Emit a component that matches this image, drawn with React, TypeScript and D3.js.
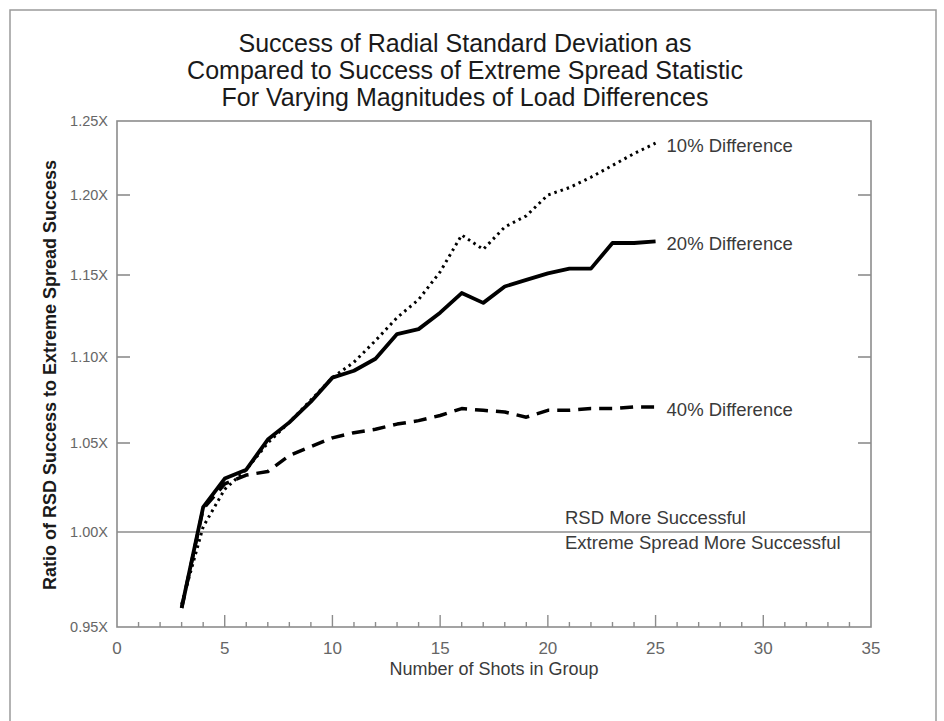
import React, { useEffect, useRef } from "react";
import * as d3 from "d3";

// number of shots in the group
const shots = [3, 4, 5, 6, 7, 8, 9, 10, 11, 12, 13, 14, 15, 16, 17, 18, 19, 20, 21, 22, 23, 24, 25];

// ratio of RSD success to extreme spread success
const diff10 = [0.962, 1.003, 1.024, 1.035, 1.05, 1.062, 1.075, 1.088, 1.097, 1.11, 1.124, 1.135, 1.152, 1.175, 1.166, 1.18, 1.187, 1.2, 1.205, 1.212, 1.22, 1.228, 1.235];
const diff20 = [0.96, 1.014, 1.03, 1.035, 1.052, 1.062, 1.074, 1.088, 1.092, 1.099, 1.114, 1.117, 1.127, 1.139, 1.133, 1.143, 1.147, 1.151, 1.154, 1.154, 1.17, 1.17, 1.171];
const diff40 = [0.96, 1.013, 1.027, 1.032, 1.034, 1.043, 1.048, 1.053, 1.056, 1.058, 1.061, 1.063, 1.066, 1.07, 1.069, 1.068, 1.065, 1.069, 1.069, 1.07, 1.07, 1.071, 1.071];

const seriesNames = ["10% Difference", "20% Difference", "40% Difference"];
const xTicks = [0, 5, 10, 15, 20, 25, 30, 35];
const yTicks = [0.95, 1.0, 1.05, 1.1, 1.15, 1.2, 1.25];
const titleLines = [
  "Success of Radial Standard Deviation as",
  "Compared to Success of Extreme Spread Statistic",
  "For Varying Magnitudes of Load Differences",
];
const xTitle = "Number of Shots in Group";
const yTitle = "Ratio of RSD Success to Extreme Spread Success";
const aboveNote = "RSD More Successful";
const belowNote = "Extreme Spread More Successful";

const W = 944;
const H = 721;
const FONT = "'Liberation Sans', Arial, sans-serif";

export default function App() {
  const ref = useRef<SVGSVGElement>(null);

  useEffect(() => {
    const svg = d3.select(ref.current);
    svg.selectAll("*").remove();

    const left = 117, right = 871;
    const x = d3.scaleLinear().domain([0, 35]).range([left, right]);
    // scanned chart is not evenly spaced vertically, so the scale follows the tick marks
    const y = d3.scaleLinear().domain(yTicks).range([627, 532, 443, 357, 275, 195, 121]);
    const top = y(1.25), bottom = y(0.95);
    const axisColor = "#8c8c8c";

    // outer frame
    svg.append("rect").attr("x", 10).attr("y", 10).attr("width", 926).attr("height", 730)
      .attr("fill", "none").attr("stroke", "#9a9a9a").attr("stroke-width", 1.5);

    // title
    svg.append("g").selectAll("text").data(titleLines).join("text")
      .attr("x", 465).attr("y", (d, i) => 52 + i * 27)
      .attr("text-anchor", "middle").attr("font-family", FONT).attr("font-size", 25)
      .attr("fill", "#1a1a1a").text((d) => d);

    // plot box
    svg.append("rect").attr("x", left).attr("y", top).attr("width", right - left).attr("height", bottom - top)
      .attr("fill", "none").attr("stroke", axisColor).attr("stroke-width", 1.6);

    // 1.00X reference line
    svg.append("line").attr("x1", left).attr("x2", right).attr("y1", y(1)).attr("y2", y(1))
      .attr("stroke", axisColor).attr("stroke-width", 1.6);

    // y ticks on both sides
    const inner = yTicks.filter((d) => d > 1.001 && d < 1.249);
    const gy = svg.append("g").attr("stroke", axisColor).attr("stroke-width", 1.6);
    gy.selectAll(".l").data(inner).join("line").attr("class", "l")
      .attr("x1", left).attr("x2", left + 13).attr("y1", (d) => y(d)).attr("y2", (d) => y(d));
    gy.selectAll(".r").data(inner).join("line").attr("class", "r")
      .attr("x1", right - 13).attr("x2", right).attr("y1", (d) => y(d)).attr("y2", (d) => y(d));

    svg.append("g").selectAll("text").data(yTicks).join("text")
      .attr("x", left - 9).attr("y", (d) => y(d)).attr("dy", "0.36em")
      .attr("text-anchor", "end").attr("font-family", FONT).attr("font-size", 14.5)
      .attr("fill", "#666").text((d) => d3.format(".2f")(d) + "X");

    // x ticks: minor every shot, major every 5
    const gx = svg.append("g").attr("stroke", axisColor).attr("stroke-width", 1.4);
    gx.selectAll("line").data(d3.range(1, 35)).join("line")
      .attr("x1", (d) => x(d)).attr("x2", (d) => x(d))
      .attr("y1", bottom).attr("y2", (d) => bottom - (d % 5 === 0 ? 12 : 5));

    svg.append("g").selectAll("text").data(xTicks).join("text")
      .attr("x", (d) => x(d)).attr("y", bottom + 27)
      .attr("text-anchor", "middle").attr("font-family", FONT).attr("font-size", 17)
      .attr("fill", "#666").text((d) => d);

    svg.append("text").attr("x", (left + right) / 2).attr("y", 675)
      .attr("text-anchor", "middle").attr("font-family", FONT).attr("font-size", 18)
      .attr("fill", "#3a3a3a").text(xTitle);

    svg.append("text").attr("transform", `translate(56,375) rotate(-90)`)
      .attr("text-anchor", "middle").attr("font-family", FONT).attr("font-size", 18)
      .attr("font-weight", "bold").attr("fill", "#1a1a1a").text(yTitle);

    // series
    const series = [
      { name: seriesNames[0], values: diff10, width: 3, dash: "2.5,4" },
      { name: seriesNames[2], values: diff40, width: 3.5, dash: "13,8" },
      { name: seriesNames[1], values: diff20, width: 3.8, dash: null },
    ];
    const line = d3.line<number>().x((d, i) => x(shots[i])).y((d) => y(d));

    svg.append("g").selectAll("path").data(series).join("path")
      .attr("d", (s) => line(s.values))
      .attr("fill", "none").attr("stroke", "#000")
      .attr("stroke-width", (s) => s.width)
      .attr("stroke-dasharray", (s) => s.dash)
      .attr("stroke-linejoin", "round");

    svg.append("g").selectAll("text").data(series).join("text")
      .attr("x", x(25) + 11).attr("y", (s) => y(s.values[s.values.length - 1]) + 2)
      .attr("dy", "0.36em").attr("font-family", FONT).attr("font-size", 18.5)
      .attr("fill", "#3a3a3a").text((s) => s.name);

    // notes around the 1.00X line
    svg.append("text").attr("x", 565).attr("y", y(1) - 8)
      .attr("font-family", FONT).attr("font-size", 18.5).attr("fill", "#3a3a3a").text(aboveNote);
    svg.append("text").attr("x", 565).attr("y", y(1) + 17)
      .attr("font-family", FONT).attr("font-size", 18.5).attr("fill", "#3a3a3a").text(belowNote);
  }, []);

  return (
    <svg ref={ref} width={W} height={H}
      style={{ position: "absolute", left: 0, top: 0, background: "#fff" }} />
  );
}
